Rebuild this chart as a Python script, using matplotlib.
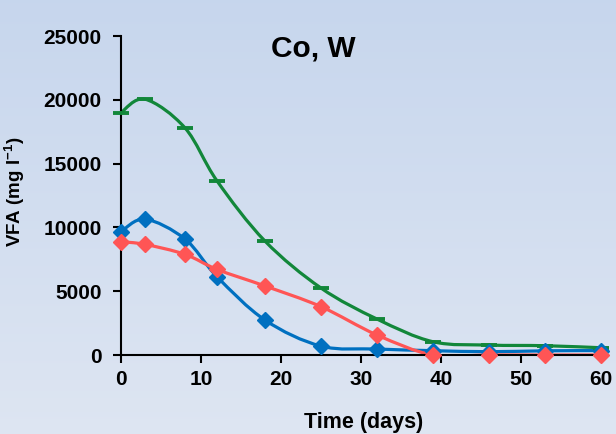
import numpy as np
import matplotlib
matplotlib.use("Agg")
import matplotlib.pyplot as plt
from matplotlib.path import Path
from matplotlib.patches import PathPatch

plt.rcParams['font.family'] = ['Liberation Sans', 'DejaVu Sans']
plt.rcParams['font.weight'] = 'bold'
plt.rcParams['mathtext.fontset'] = 'custom'
plt.rcParams['mathtext.rm'] = 'Liberation Sans:bold'
plt.rcParams['mathtext.bf'] = 'Liberation Sans:bold'

## data
days = [0, 3, 8, 12, 18, 25, 32, 39, 46, 53, 60]
green = [19000, 20050, 17800, 13650, 8930, 5250, 2820, 1040, 780, 730, 570]
blue = [9660, 10650, 9090, 6140, 2740, 700, 470, 340, 260, 330, 350]
red = [8880, 8670, 7890, 6710, 5410, 3790, 1570, 0, 0, 0, 0]


def smooth_path(x, y):
    # Excel-like smoothed line: cubic bezier through each point
    x = np.asarray(x, float)
    y = np.asarray(y, float)
    n = len(x)
    verts = [(x[0], y[0])]
    codes = [Path.MOVETO]
    t = 1 / 6
    for i in range(n - 1):
        p0 = i - 1 if i > 0 else i
        p3 = i + 2 if i + 2 < n else i + 1
        c1 = (x[i] + t * (x[i + 1] - x[p0]), y[i] + t * (y[i + 1] - y[p0]))
        c2 = (x[i + 1] - t * (x[p3] - x[i]), y[i + 1] - t * (y[p3] - y[i]))
        verts += [c1, c2, (x[i + 1], y[i + 1])]
        codes += [Path.CURVE4] * 3
    return Path(verts, codes)


fig = plt.figure(figsize=(6.16, 4.34), dpi=100)

# gradient background
bg = fig.add_axes([0, 0, 1, 1], zorder=-1)
grad = np.linspace(0, 1, 256).reshape(-1, 1)
top = np.array([0.78, 0.84, 0.93])
bot = np.array([0.87, 0.90, 0.95])
img = top + (bot - top) * grad[:, :, None]
bg.imshow(img, aspect='auto', extent=[0, 1, 0, 1])
bg.axis('off')

ax = fig.add_axes([0.1964, 0.182, 0.7792, 0.735])
ax.patch.set_alpha(0)

series = [
    (green, '#12873A', '_', 11.5, 2.8),
    (blue, '#0070C0', 'D', 8.5, 1),
    (red, '#FF5555', 'D', 8.5, 1),
]
for vals, col, mk, ms, mew in series:
    ax.add_patch(PathPatch(smooth_path(days, vals), facecolor='none',
                           edgecolor=col, lw=2.3, zorder=2))
    ax.plot(days, vals, ls='none', marker=mk, ms=ms, mew=mew,
            color=col, mec=col, zorder=3, clip_on=False)

ax.set_xlim(0, 60)
ax.set_ylim(0, 25000)
ax.set_xticks(range(0, 61, 10))
ax.set_yticks(range(0, 25001, 5000))
for s in ['top', 'right']:
    ax.spines[s].set_visible(False)
for s in ['left', 'bottom']:
    ax.spines[s].set_linewidth(1.5)
ax.tick_params(direction='out', length=6, width=1.5, labelsize=15)
ax.tick_params(axis='x', pad=5)
ax.tick_params(axis='y', pad=8)

ax.text(0.40, 0.937, 'Co, W', transform=ax.transAxes, fontsize=21.5,
        fontweight='bold', ha='center', va='baseline')
fig.text(0.023, 0.558, 'VFA (mg l$^{-1}$)', fontsize=13.5, fontweight='bold',
         rotation=90, ha='center', va='center')
fig.text(0.591, 0.013, 'Time (days)', fontsize=15.5, fontweight='bold',
         ha='center', va='baseline')

fig.savefig('out.png', dpi=100)
